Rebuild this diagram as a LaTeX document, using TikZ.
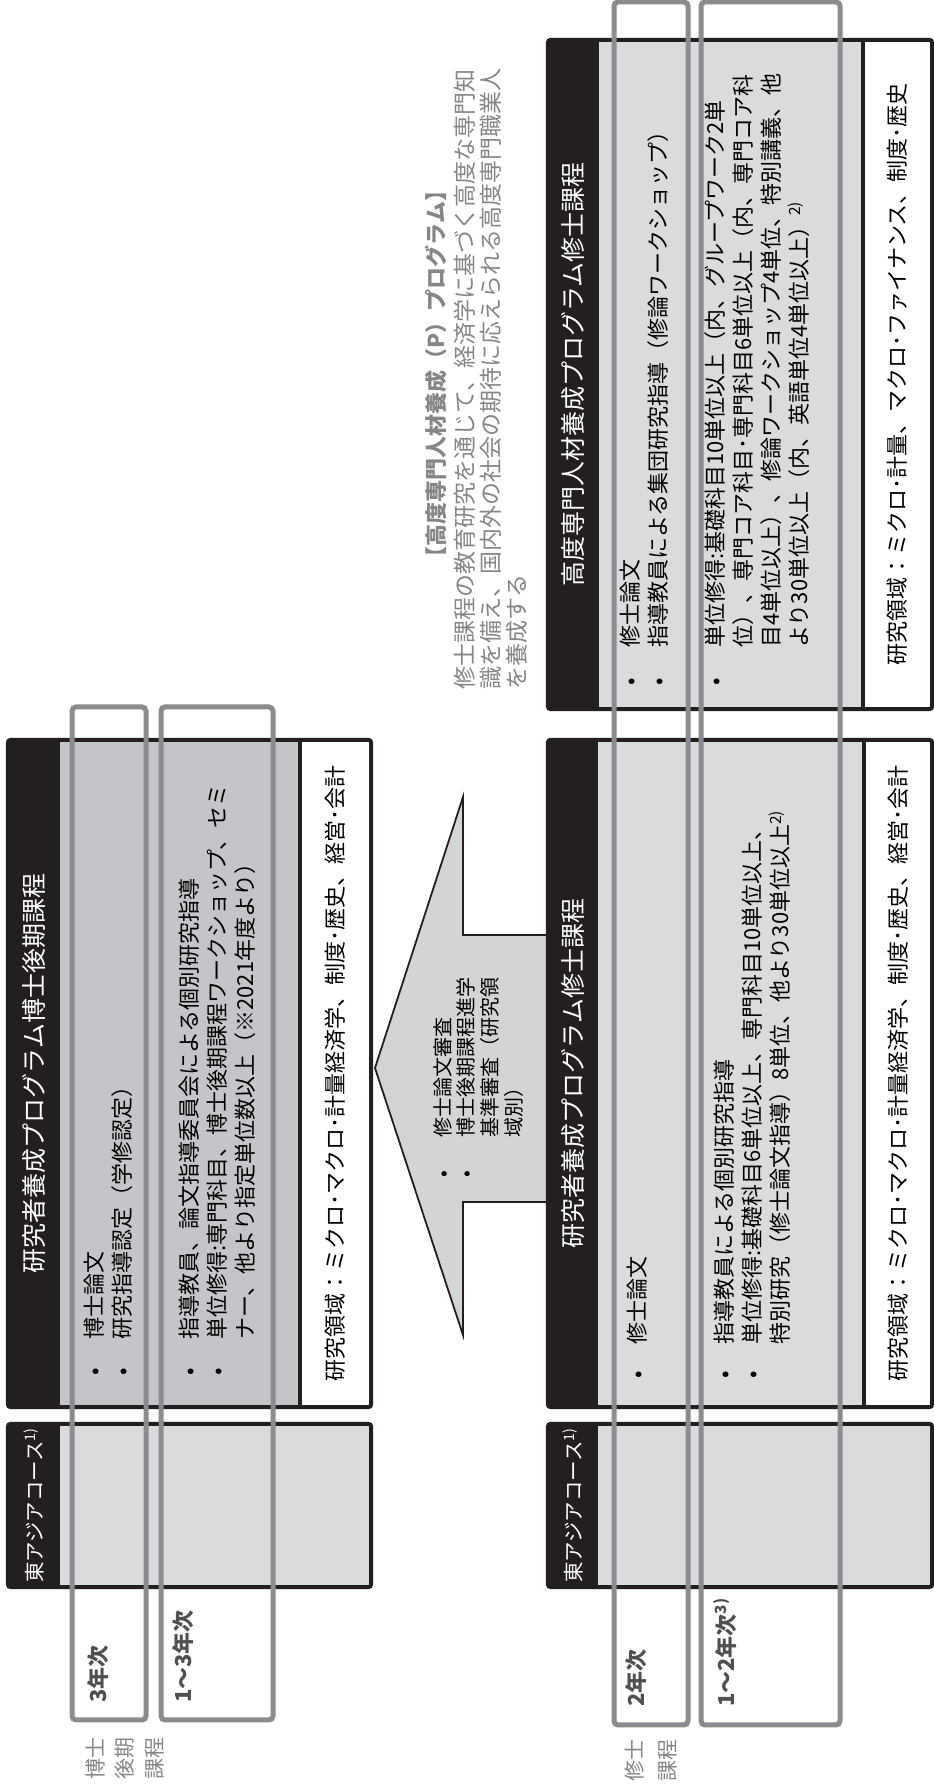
\documentclass[tikz,border=0pt]{standalone}
\usepackage{fontspec}
\setmainfont{Noto Sans CJK JP}
\definecolor{inkBlack}{HTML}{231F20}
\definecolor{paleGray}{HTML}{DADBDD}
\definecolor{deepGray}{HTML}{C4C5C8}
\definecolor{arrowGray}{HTML}{D3D4D6}
\definecolor{frameGray}{HTML}{8B8C8F}
\definecolor{noteGray}{HTML}{868686}
\definecolor{yearGray}{HTML}{505052}

\begin{document}
\begin{tikzpicture}
[x=1pt,y=1pt,
 band/.style={fill=inkBlack,text=white,inner sep=0pt,font=\fontsize{25}{28}\selectfont},
 eastBand/.style={fill=inkBlack,text=white,inner sep=0pt,font=\fontsize{20.5}{22}\selectfont},
 bodyBox/.style={fill=paleGray,inner sep=0pt},
 fieldBox/.style={fill=white,inner sep=0pt,font=\fontsize{22}{26}\selectfont},
 outline/.style={draw=inkBlack,line width=4pt,rounded corners=3pt},
 sepLine/.style={draw=inkBlack,line width=3.5pt},
 listTxt/.style={anchor=west,inner sep=0pt,font=\fontsize{22}{28}\selectfont},
 yearFrame/.style={draw=frameGray,line width=5pt,rounded corners=4pt},
 yearLabel/.style={anchor=west,inner sep=0pt,text=yearGray,font=\bfseries\fontsize{22}{26}\selectfont},
 courseLabel/.style={anchor=west,inner sep=0pt,align=left,text=noteGray,font=\fontsize{21}{29.5}\selectfont},
 noteTxt/.style={inner sep=0pt,text=noteGray,font=\fontsize{23}{26}\selectfont}]

  \fill[white] (0,0) rectangle (934,1789);
  \useasboundingbox (0,0) rectangle (934,1789);

  \begin{scope}[rotate=90,transform shape]
  \filldraw[fill=arrowGray,draw=inkBlack,line width=1.8pt] (587,-550) -- (587,-463) -- (454,-463)
    -- (721,-375) -- (992,-463) -- (854,-463) -- (854,-550);
  \node[anchor=west,inner sep=0pt,font=\fontsize{20}{22.7}\selectfont] (examOFmaster) at (611.5,-481)
    {\begin{tabular}{@{}p{39.5pt}@{}l@{}}•&修士論文審査\\•&博士後期課程進学\\&基準審査（研究領\\&域別）\end{tabular}};

  % doctoral course
  \node[eastBand,minimum width=163pt,minimum height=52pt] (headOFeastDoctor) at (283.5,-34) {東アジアコース\textsuperscript{1)}};
  \node[bodyBox,minimum width=163pt,minimum height=311pt] (bodyOFeastDoctor) at (283.5,-215.5) {};
  \draw[outline] (headOFeastDoctor.north west) rectangle (bodyOFeastDoctor.south east);

  \node[band,minimum width=667pt,minimum height=52pt] (headOFdoctor) at (715.5,-34) {研究者養成プログラム博士後期課程};
  \node[bodyBox,fill=deepGray,minimum width=667pt,minimum height=240pt] (bodyOFdoctor) at (715.5,-180) {};
  \node[fieldBox,minimum width=667pt,minimum height=71pt] (fieldOFdoctor) at (715.5,-335.5)
    {研究領域：ミクロ･マクロ･計量経済学、制度･歴史、経営･会計};
  \draw[sepLine] (fieldOFdoctor.north west) -- (fieldOFdoctor.north east);
  \draw[outline] (headOFdoctor.north west) rectangle (fieldOFdoctor.south east);
  \node[listTxt] (firstOFdoctorList) at (413,-111)
    {\begin{tabular}{@{}p{36pt}@{}l@{}}•&博士論文\\•&研究指導認定（学修認定）\end{tabular}};
  \node[listTxt] (secondOFdoctorList) at (413,-220)
    {\begin{tabular}{@{}p{36pt}@{}l@{}}•&指導教員、論文指導委員会による個別研究指導\\
     •&単位修得:専門科目、博士後期課程ワークショップ、セミ\\&ナー、他より指定単位数以上（※2021年度より）\end{tabular}};

  % master course
  \node[eastBand,minimum width=163pt,minimum height=50pt] (headOFeastMaster) at (283.5,-573) {東アジアコース\textsuperscript{1)}};
  \node[bodyBox,minimum width=163pt,minimum height=334pt] (bodyOFeastMaster) at (283.5,-765) {};
  \draw[outline] (headOFeastMaster.north west) rectangle (bodyOFeastMaster.south east);

  \node[band,minimum width=667pt,minimum height=50pt] (headOFmaster) at (715.5,-573) {研究者養成プログラム修士課程};
  \node[bodyBox,minimum width=667pt,minimum height=266pt] (bodyOFmaster) at (715.5,-731) {};
  \node[fieldBox,minimum width=667pt,minimum height=68pt] (fieldOFmaster) at (715.5,-898)
    {研究領域：ミクロ･マクロ･計量経済学、制度･歴史、経営･会計};
  \draw[sepLine] (fieldOFmaster.north west) -- (fieldOFmaster.north east);
  \draw[outline] (headOFmaster.north west) rectangle (fieldOFmaster.south east);
  \node[listTxt] (firstOFmasterList) at (410,-640)
    {\begin{tabular}{@{}p{34pt}@{}l@{}}•&修士論文\end{tabular}};
  \node[listTxt] (secondOFmasterList) at (410,-755)
    {\begin{tabular}{@{}p{34pt}@{}l@{}}•&指導教員による個別研究指導\\
     •&単位修得:基礎科目6単位以上、専門科目10単位以上、\\&特別研究（修士論文指導）8単位、他より30単位以上\textsuperscript{2)}\end{tabular}};

  % professional course
  \node[band,minimum width=669pt,minimum height=51pt] (headOFprof) at (1414.5,-573.5) {高度専門人材養成プログラム修士課程};
  \node[bodyBox,minimum width=669pt,minimum height=264pt] (bodyOFprof) at (1414.5,-731) {};
  \node[fieldBox,minimum width=669pt,minimum height=69pt] (fieldOFprof) at (1414.5,-897.5)
    {研究領域：ミクロ･計量、マクロ･ファイナンス、制度･歴史};
  \draw[sepLine] (fieldOFprof.north west) -- (fieldOFprof.north east);
  \draw[outline] (headOFprof.north west) rectangle (fieldOFprof.south east);
  \node[listTxt] (firstOFprofList) at (1103,-647)
    {\begin{tabular}{@{}p{38pt}@{}l@{}}•&修士論文\\•&指導教員による集団研究指導（修論ワークショップ）\end{tabular}};
  \node[listTxt] (secondOFprofList) at (1103,-760)
    {\begin{tabular}{@{}p{38pt}@{}l@{}}•&単位修得:基礎科目10単位以上（内、グループワーク2単\\
     &位）、専門コア科目･専門科目6単位以上（内、専門コア科\\&目4単位以上）、修論ワークショップ4単位、特別講義、他\\
     &より30単位以上（内、英語単位4単位以上）\textsuperscript{2)}\end{tabular}};

  \node[noteTxt,font=\bfseries\fontsize{22}{26}\selectfont] (titleOFprof) at (1415,-436) {【高度専門人材養成（P）プログラム】};
  \node[noteTxt,anchor=west,align=left] (noteOFprof) at (1099,-491)
    {修士課程の教育研究を通じて、経済学に基づく高度な専門知\\識を備え、国内外の社会の期待に応えられる高度専門職業人\\を養成する};

  % year frames
  \foreach \ua/\va/\ub/\vb in {69/72/1082/146,69/161/1082/273,64/614/1787/688,64/701/1787/840}
    \draw[yearFrame] (\ua,-\va) rectangle (\ub,-\vb);

  \node[yearLabel] (thirdYEAR) at (86,-98) {3年次};
  \node[yearLabel] (firstTOthirdYEAR) at (86,-183) {1〜3年次};
  \node[yearLabel] (secondYEAR) at (82,-636) {2年次};
  \node[yearLabel] (firstTOsecondYEAR) at (82,-725) {1〜2年次\textsuperscript{3)}};

  \node[courseLabel] (doctorCOURSE) at (9,-124.5) {博士\\後期\\課程};
  \node[courseLabel,font=\fontsize{21}{33}\selectfont] (masterCOURSE) at (7,-650.5) {修士\\課程};
  \end{scope}
\end{tikzpicture}
\end{document}
